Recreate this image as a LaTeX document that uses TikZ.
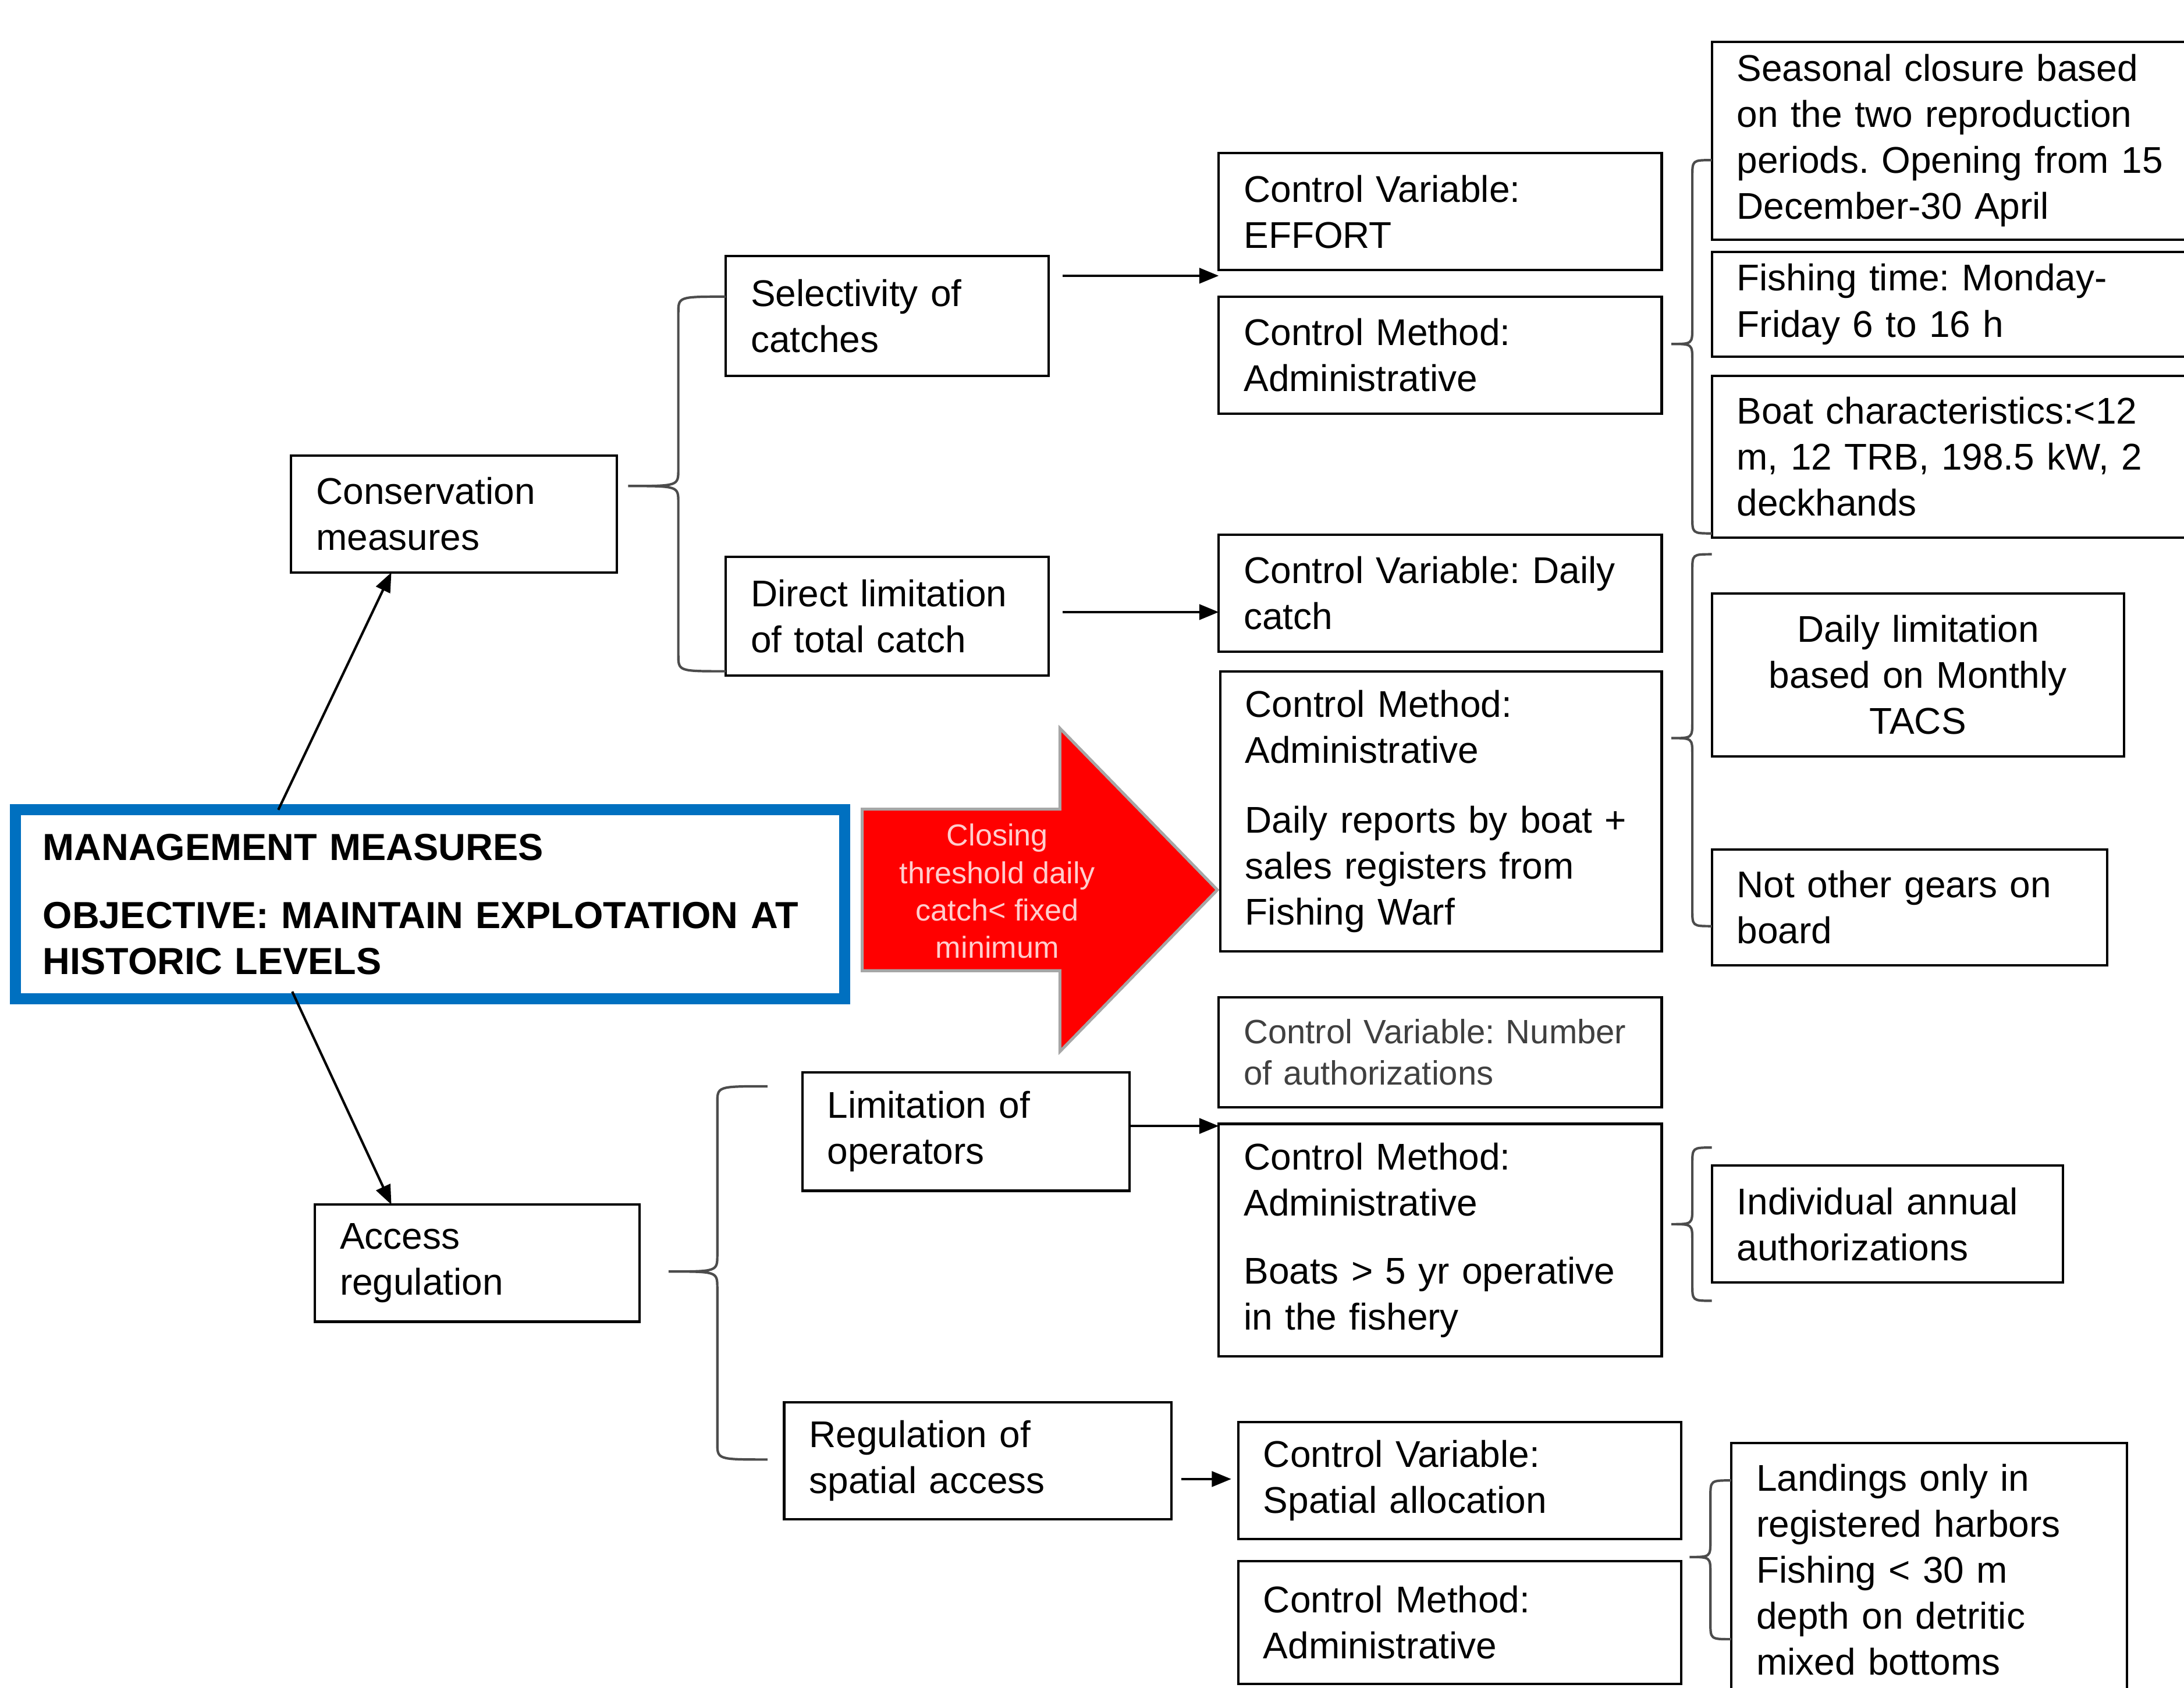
\documentclass[tikz,border=0pt]{standalone}
\usepackage{fontspec}
\setmainfont{Liberation Sans}
\usepackage{tikz}
\usetikzlibrary{arrows.meta}
\frenchspacing
\hyphenpenalty=10000

\definecolor{mmblue}{RGB}{0,112,192}
\definecolor{arrowred}{RGB}{255,0,0}
\definecolor{pinktext}{RGB}{255,205,205}

\newcommand{\bodysize}{\fontsize{7.6}{9.4}\selectfont}
\newcommand{\mainsize}{\fontsize{7.7}{9.4}\selectfont}
\newcommand{\smallsize}{\fontsize{6.9}{8.5}\selectfont}
\newcommand{\arrowsize}{\fontsize{6.2}{7.65}\selectfont}
% end x, top y, bottom y, spine x, tip x, tip y
\newcommand{\curlyb}[6]{%
  \draw[brace] (#1,#2) .. controls (#4,#2) .. (#4,#2+12) -- (#4,#6-12)
    .. controls (#4,#6) .. (#5,#6) .. controls (#4,#6) .. (#4,#6+12)
    -- (#4,#3-12) .. controls (#4,#3) .. (#1,#3);}

\tikzset{
  box/.style={draw, line width=0.5pt, inner xsep=1.8mm, inner ysep=0pt, outer sep=0pt,
    align=left, anchor=north west, font=\bodysize},
  brace/.style={draw=black!70, line width=0.5pt},
  arr/.style={-{Triangle[length=1.4mm,width=1.1mm]}, line width=0.5pt},
}

\begin{document}
\begin{tikzpicture}[x=0.1mm, y=-0.1mm]
\clip (0,0) rectangle (1568,1212);
\fill[white] (0,0) rectangle (1568,1212);

% Red block arrow
\filldraw[fill=arrowred, draw=gray!70, line width=0.6pt] (619,581) -- (761,581) -- (761,523)
  -- (874,639) -- (761,755) -- (761,697) -- (619,697) -- cycle;
\node[text=pinktext, font=\arrowsize, align=center] (close) at (716,640)
  {Closing\\threshold daily\\catch< fixed\\minimum};

% Main box
\node[box, draw=mmblue, line width=0.8mm, inner xsep=1.98mm, text width=55.6mm,
  minimum height=13.55mm, font=\mainsize\bfseries] (main) at (11,581.5)
  {MANAGEMENT MEASURES\\[1.6mm]OBJECTIVE: MAINTAIN EXPLOTATION AT\\HISTORIC LEVELS};

% Measures
\node[box, text width=19.8mm, minimum height=8.4mm] (cons) at (209,327) {Conservation\\measures};
\node[box, text width=19.7mm, minimum height=8.4mm] (acc) at (226,865) {Access\\regulation};

% Instruments
\node[box, text width=19.6mm, minimum height=8.6mm] (sel) at (521,184) {Selectivity of\\catches};
\node[box, text width=19.6mm, minimum height=8.5mm] (dir) at (521,400) {Direct limitation\\of total catch};
\node[box, text width=19.9mm, minimum height=8.5mm] (lim) at (576,770) {Limitation of\\operators};
\node[box, text width=24.2mm, minimum height=8.4mm] (reg) at (563,1007) {Regulation of\\spatial access};

% Control variables and methods
\node[box, text width=28.2mm, minimum height=8.4mm] (cvE) at (875,110) {Control Variable:\\EFFORT};
\node[box, text width=28.2mm, minimum height=8.4mm] (cmE) at (875,213) {Control Method:\\Administrative};
\node[box, text width=28.2mm, minimum height=8.4mm] (cvD) at (875,384) {Control Variable: Daily\\catch};
\node[box, text width=28.1mm, minimum height=20.1mm] (cmD) at (876,482)
  {Control Method:\\Administrative\\[1.7mm]Daily reports by boat +\\sales registers from\\Fishing Warf};
\node[box, text width=28.2mm, minimum height=7.9mm, font=\smallsize, text=black!75] (cvN) at (875,716)
  {Control Variable: Number\\of authorizations};
\node[box, text width=28.2mm, minimum height=16.7mm] (cmN) at (875,807)
  {Control Method:\\Administrative\\[1.6mm]Boats > 5 yr operative\\in the fishery};
\node[box, text width=28.2mm, minimum height=8.4mm] (cvS) at (889,1021) {Control Variable:\\Spatial allocation};
\node[box, text width=28.2mm, minimum height=8.8mm] (cmS) at (889,1121) {Control Method:\\Administrative};

% Specific rules
\node[box, text width=32.4mm, minimum height=14.2mm] (seas) at (1229,30)
  {Seasonal closure based\\on the two reproduction\\periods. Opening from 15\\December-30 April};
\node[box, text width=32.4mm, minimum height=7.5mm] (fish) at (1229,181) {Fishing time: Monday-\\Friday 6 to 16 h};
\node[box, text width=32.4mm, minimum height=11.6mm] (boat) at (1229,270)
  {Boat characteristics:<12\\m, 12 TRB, 198.5 kW, 2\\deckhands};
\node[box, text width=26mm, minimum height=11.7mm, align=center] (dlim) at (1229,426)
  {Daily limitation\\based on Monthly\\TACS};
\node[box, text width=24.8mm, minimum height=8.3mm] (gear) at (1229,610) {Not other gears on\\board};
\node[box, text width=21.6mm, minimum height=8.4mm] (indiv) at (1229,837) {Individual annual\\authorizations};
\node[box, text width=24.8mm, minimum height=18.2mm] (land) at (1243,1036)
  {Landings only in\\registered harbors\\Fishing < 30 m\\depth on detritic\\mixed bottoms};

% Braces
\curlyb{521}{213}{482}{487}{451}{349}
\curlyb{551}{780}{1048}{515}{480}{913}
\curlyb{1229}{115}{383}{1215}{1200}{247}
\curlyb{1229}{398}{665}{1215}{1200}{530}
\curlyb{1229}{824}{934}{1215}{1200}{879}
\curlyb{1243}{1063}{1177}{1228}{1213}{1118}

% Arrows
\draw[arr] ([xshift=-10.9mm]main.north) -- ([xshift=-4.5mm]cons.south);
\draw[arr] ([xshift=-9.9mm,yshift=0.5mm]main.south) -- ([xshift=-6.15mm]acc.north);
\draw[arr] ([xshift=1mm,yshift=2.9mm]sel.east) coordinate (a1) -- (a1 -| cvE.west);
\draw[arr] ([xshift=1mm,yshift=0.3mm]dir.east) coordinate (a2) -- (a2 -| cvD.west);
\draw[arr] ([yshift=0.4mm]lim.east) coordinate (a3) -- (a3 -| cmN.west);
\draw[arr, shorten >=0.5mm] ([xshift=0.7mm,yshift=-1.3mm]reg.east) coordinate (a4) -- (a4 -| cvS.west);
\end{tikzpicture}
\end{document}
